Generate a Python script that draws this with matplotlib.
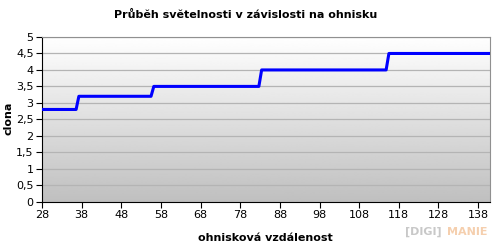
import matplotlib.pyplot as plt
import numpy as np
from matplotlib.ticker import FuncFormatter

# focal length (mm) and aperture, step corners
ohnisko = [28, 36.6, 37.3, 55.5, 56.2, 82.7, 83.4, 114.8, 115.5, 141]
clona = [2.8, 2.8, 3.2, 3.2, 3.5, 3.5, 4.0, 4.0, 4.5, 4.5]

x_ticks = [28, 38, 48, 58, 68, 78, 88, 98, 108, 118, 128, 138]
y_ticks = [0, 0.5, 1, 1.5, 2, 2.5, 3, 3.5, 4, 4.5, 5]

fig = plt.figure(figsize=(4.94, 2.47), dpi=100)
ax = fig.add_axes([42 / 494, 1 - 201.7 / 247, 448 / 494, 164.7 / 247])

# grey gradient background of plot area
grad = np.linspace(1.0, 0.75, 256).reshape(-1, 1)
ax.imshow(grad, cmap='gray', vmin=0, vmax=1, aspect='auto',
          extent=[0, 1, 0, 1], transform=ax.transAxes, zorder=0)

for y in y_ticks[1:]:
    ax.axhline(y, color='#b4b4b4', linewidth=0.9, zorder=1)

ax.plot(ohnisko, clona, color='#0000ff', linewidth=2.2, zorder=3,
        solid_capstyle='butt')

ax.set_xlim(28, 141)
ax.set_ylim(0, 5)
ax.set_xticks(x_ticks)
ax.set_yticks(y_ticks)
ax.yaxis.set_major_formatter(FuncFormatter(lambda v, p: ('%g' % v).replace('.', ',')))
ax.tick_params(labelsize=8, length=4, width=0.8, color='black', direction='out', pad=2)

for s in ['top', 'right']:
    ax.spines[s].set_color('#909090')
    ax.spines[s].set_linewidth(0.8)
for s in ['left', 'bottom']:
    ax.spines[s].set_color('black')
    ax.spines[s].set_linewidth(0.8)

fig.text(0.497, 0.94, 'Průběh světelnosti v závislosti na ohnisku',
         ha='center', va='center', fontsize=8, fontweight='bold')
fig.text(0.537, 0.035, 'ohnisková vzdálenost', ha='center', va='center',
         fontsize=8, fontweight='bold')
fig.text(0.018, 0.52, 'clona', ha='center', va='center', rotation=90,
         fontsize=8, fontweight='bold')

# watermark
fig.text(0.82, 0.06, '[DIGI]', ha='left', va='center', fontsize=8,
         fontweight='bold', color='#c8c8c8')
fig.text(0.905, 0.06, 'MANIE', ha='left', va='center', fontsize=8,
         fontweight='bold', color='#f5cfae')

fig.savefig('out.png', dpi=100, facecolor='white')
